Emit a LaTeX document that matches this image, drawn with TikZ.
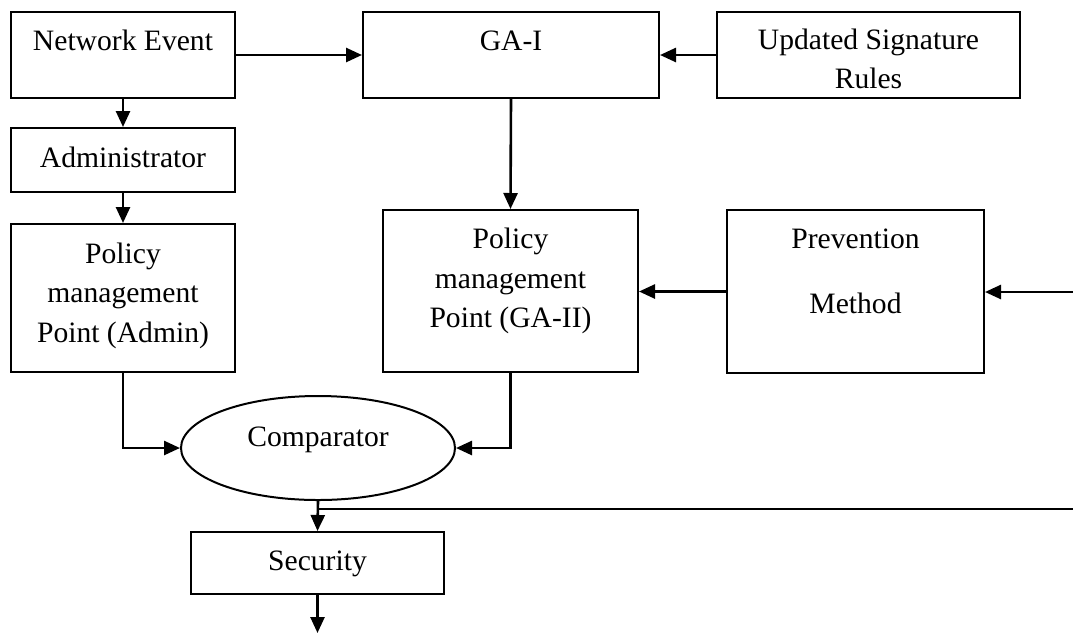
\documentclass[tikz,border=0pt]{standalone}
\usepackage{fontspec}
\setmainfont{Liberation Serif}
\usetikzlibrary{shapes.geometric,arrows.meta}
\begin{document}
\begin{tikzpicture}[x=1pt,y=-1pt,
  box/.style={draw, rectangle, inner sep=0pt, line width=2pt},
  oval/.style={draw, ellipse, inner sep=0pt, line width=2pt},
  txt/.style={anchor=base, inner sep=0pt, font=\fontsize{29.6}{35}\selectfont},
  arr/.style={-{Triangle[length=16pt,width=14pt]}, line width=2.6pt},
  conn/.style={line width=2.4pt}]
\useasboundingbox (0,0) rectangle (1073,633);
% boxes
\node[box, minimum width=224pt, minimum height=86pt] (ne) at (123,55) {};
\node[box, minimum width=296pt, minimum height=86pt] (ga1) at (511,55) {};
\node[box, minimum width=303pt, minimum height=86pt] (usr) at (868.5,55) {};
\node[box, minimum width=224pt, minimum height=64pt] (adm) at (123,160) {};
\node[box, minimum width=224pt, minimum height=148pt] (pmpa) at (123,298) {};
\node[box, minimum width=255pt, minimum height=162pt] (pmpg) at (510.5,291) {};
\node[box, minimum width=257pt, minimum height=163pt] (prev) at (855.5,291.5) {};
\node[oval, minimum width=274pt, minimum height=104pt] (comp) at (318,448) {};
\node[box, minimum width=253pt, minimum height=62pt] (sec) at (317.5,563) {};
% texts
\node[txt] (t1) at (123,50) {Network Event};
\node[txt] (t2) at (511,50) {GA-I};
\node[txt] (t3) at (868.5,49) {Updated Signature};
\node[txt] (t4) at (868.5,88) {Rules};
\node[txt] (t5) at (123,167) {Administrator};
\node[txt] (t6) at (123,263) {Policy};
\node[txt] (t7) at (123,302) {management};
\node[txt] (t8) at (123,342) {Point (Admin)};
\node[txt] (t9) at (510.5,248) {Policy};
\node[txt] (t10) at (510.5,288) {management};
\node[txt] (t11) at (510.5,327) {Point (GA-II)};
\node[txt] (t12) at (855.5,248) {Prevention};
\node[txt] (t13) at (855.5,313) {Method};
\node[txt] (t14) at (318,446) {Comparator};
\node[txt] (t15) at (317.5,570) {Security};
% free ends
\coordinate (rin) at (1073,292);
\coordinate (fb) at (1073,509);
\coordinate (out) at (317.5,633);
% connectors
\draw[arr] (ne.east) -- (ga1.west);
\draw[arr] (usr.west) -- (ga1.east);
\draw[arr] (ga1.south) -- (pmpg.north);
\draw[arr] (ne.south) -- (adm.north);
\draw[arr] (adm.south) -- (pmpa.north);
\draw[arr] (prev.west) -- (prev.west -| pmpg.east);
\draw[arr] (rin) -- (rin -| prev.east);
\draw[arr] (pmpa.south) |- (comp.west);
\draw[arr] (pmpg.south) |- (comp.east);
\draw[arr] (comp.south) -- (sec.north);
\draw[conn] (fb) -- (fb -| comp.south);
\draw[arr] (sec.south) -- (out);
\end{tikzpicture}
\end{document}
